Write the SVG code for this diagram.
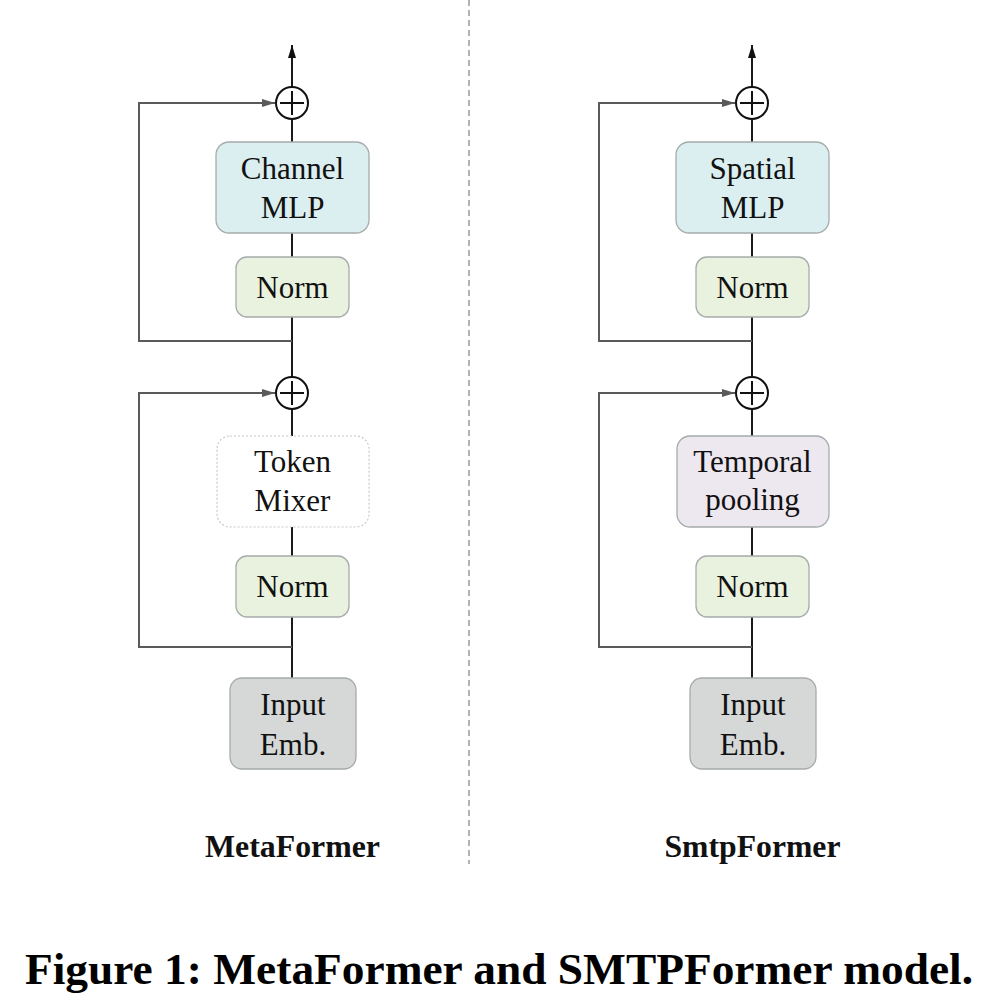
<svg xmlns="http://www.w3.org/2000/svg" width="986" height="1008" viewBox="0 0 986 1008">
<style>
.box{stroke:#a6abab;stroke-width:1.3}
.mlp{fill:#dbeef0}
.norm{fill:#e9f1df}
.mix{fill:#ffffff;stroke:#c8c8c8;stroke-width:1.2;stroke-dasharray:2 2}
.pool{fill:#ede7f0}
.emb{fill:#d5d8d7}
.t{font-family:"Liberation Serif","Times New Roman",serif;font-size:31px;fill:#111;text-anchor:middle}
.lbl{font-family:"Liberation Serif","Times New Roman",serif;font-size:32px;font-weight:bold;fill:#111;text-anchor:middle}
.cap{font-family:"Liberation Serif","Times New Roman",serif;font-size:45px;font-weight:bold;fill:#000}
.main{stroke:#1a1a1a;stroke-width:2;fill:none}
.skip{stroke:#5a5a5a;stroke-width:2;fill:none}
.add circle{fill:#fff;stroke:#111;stroke-width:2}
.add line{stroke:#111;stroke-width:2}
</style>
<defs>
<marker id="ah" markerWidth="13" markerHeight="8" refX="13" refY="4" orient="auto" markerUnits="userSpaceOnUse">
<path d="M0,0 L13,4 L0,8 Z" fill="#5a5a5a"/>
</marker>
<marker id="ahk" markerWidth="13" markerHeight="8" refX="13" refY="4" orient="auto" markerUnits="userSpaceOnUse">
<path d="M0,0 L13,4 L0,8 Z" fill="#111"/>
</marker>
</defs>
<rect width="986" height="1008" fill="#fff"/>
<line x1="469" y1="0" x2="469" y2="864" stroke="#8a8a8a" stroke-width="1.3" stroke-dasharray="6 4"/>
<g id="connectors">
<line class="main" x1="292" y1="86" x2="292" y2="45" marker-end="url(#ahk)"/>
<line class="main" x1="292" y1="86" x2="292" y2="678"/>
<path class="skip" d="M292,341 H139 V103 H275" marker-end="url(#ah)"/>
<path class="skip" d="M292,647 H139 V393 H275" marker-end="url(#ah)"/>
<line class="main" x1="752" y1="86" x2="752" y2="45" marker-end="url(#ahk)"/>
<line class="main" x1="752" y1="86" x2="752" y2="678"/>
<path class="skip" d="M752,341 H599 V103 H735" marker-end="url(#ah)"/>
<path class="skip" d="M752,647 H599 V393 H735" marker-end="url(#ah)"/>
</g>
<g id="left-add-top" class="add"><circle cx="292" cy="103" r="16"/><line x1="280" y1="103" x2="304" y2="103"/><line x1="292" y1="91" x2="292" y2="115"/></g>
<g id="left-channel-mlp"><rect class="box mlp" x="216" y="142" width="153" height="91" rx="13"/><text class="t" x="292.5" y="179">Channel</text><text class="t" x="292.5" y="218">MLP</text></g>
<g id="left-norm-top"><rect class="box norm" x="236" y="257" width="113" height="60" rx="11"/><text class="t" x="292.5" y="298">Norm</text></g>
<g id="left-add-bottom" class="add"><circle cx="292" cy="393" r="16"/><line x1="280" y1="393" x2="304" y2="393"/><line x1="292" y1="381" x2="292" y2="405"/></g>
<g id="left-token-mixer"><rect class="mix" x="217" y="436" width="152" height="91" rx="13"/><text class="t" x="292.5" y="472">Token</text><text class="t" x="292.5" y="511">Mixer</text></g>
<g id="left-norm-bottom"><rect class="box norm" x="236" y="556" width="113" height="61" rx="11"/><text class="t" x="292.5" y="597">Norm</text></g>
<g id="left-input-emb"><rect class="box emb" x="230" y="678" width="126" height="91" rx="12"/><text class="t" x="293" y="715">Input</text><text class="t" x="293" y="755">Emb.</text></g>
<g id="right-add-top" class="add"><circle cx="752" cy="103" r="16"/><line x1="740" y1="103" x2="764" y2="103"/><line x1="752" y1="91" x2="752" y2="115"/></g>
<g id="right-spatial-mlp"><rect class="box mlp" x="676" y="142" width="153" height="91" rx="13"/><text class="t" x="752.5" y="179">Spatial</text><text class="t" x="752.5" y="218">MLP</text></g>
<g id="right-norm-top"><rect class="box norm" x="696" y="257" width="113" height="60" rx="11"/><text class="t" x="752.5" y="298">Norm</text></g>
<g id="right-add-bottom" class="add"><circle cx="752" cy="393" r="16"/><line x1="740" y1="393" x2="764" y2="393"/><line x1="752" y1="381" x2="752" y2="405"/></g>
<g id="right-temporal-pooling"><rect class="box pool" x="677" y="436" width="152" height="91" rx="13"/><text class="t" x="752.5" y="472">Temporal</text><text class="t" x="752.5" y="510">pooling</text></g>
<g id="right-norm-bottom"><rect class="box norm" x="696" y="556" width="113" height="61" rx="11"/><text class="t" x="752.5" y="597">Norm</text></g>
<g id="right-input-emb"><rect class="box emb" x="690" y="678" width="126" height="91" rx="12"/><text class="t" x="753" y="715">Input</text><text class="t" x="753" y="755">Emb.</text></g>
<text class="lbl" x="292.5" y="857" textLength="175" lengthAdjust="spacingAndGlyphs">MetaFormer</text>
<text class="lbl" x="752.5" y="857" textLength="176" lengthAdjust="spacingAndGlyphs">SmtpFormer</text>
<text class="cap" x="25" y="984" textLength="948" lengthAdjust="spacingAndGlyphs">Figure 1: MetaFormer and SMTPFormer model.</text>
</svg>
